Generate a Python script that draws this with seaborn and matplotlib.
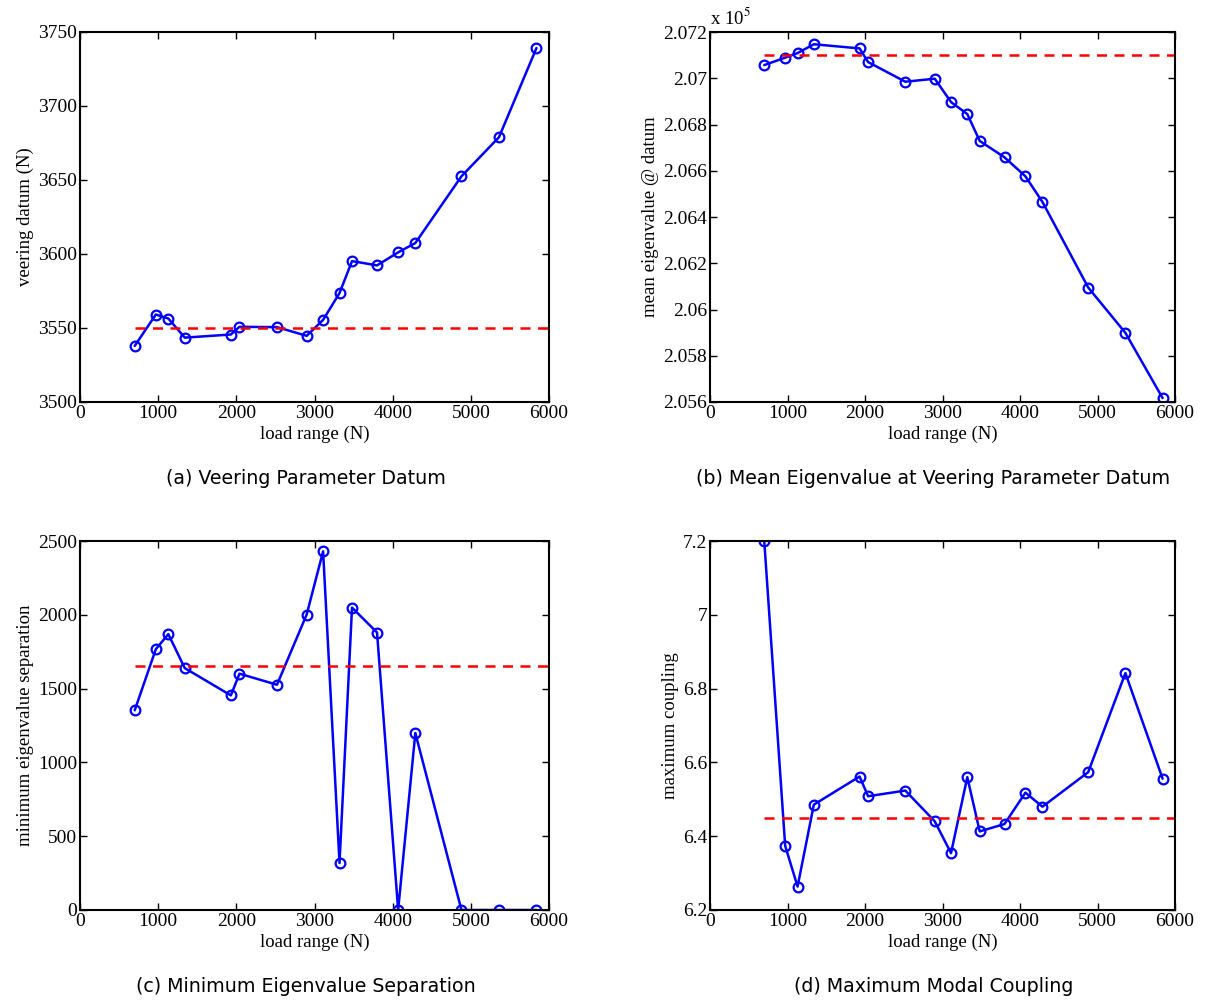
import numpy as np
import pandas as pd
import seaborn as sns
import matplotlib.pyplot as plt

# load range (N) - same for all four panels
load = [700, 970, 1130, 1340, 1930, 2040, 2520, 2900, 3110, 3320, 3480, 3800,
        4070, 4290, 4880, 5360, 5840]

veering_datum = [3537.9, 3559.1, 3556.4, 3543.5, 3545.6, 3550.8, 3550.6, 3544.7,
                 3555.5, 3573.6, 3595.2, 3592.3, 3601.1, 3607.4, 3652.5, 3678.9, 3739.2]
# mean eigenvalue in units of 1e5
mean_eig = [2.07057, 2.07089, 2.07109, 2.07147, 2.07129, 2.07070, 2.06985, 2.06998,
            2.06897, 2.06845, 2.06729, 2.06658, 2.06576, 2.06465, 2.06095, 2.05899, 2.05617]
min_sep = [1353, 1767, 1869, 1639, 1454, 1601, 1526, 2002, 2430, 318, 2049, 1880,
           0, 1199, 0, 0, 0]
max_coupling = [7.2, 6.374, 6.2635, 6.4856, 6.5617, 6.5083, 6.5237, 6.4403, 6.3541,
                6.56, 6.413, 6.433, 6.518, 6.480, 6.5735, 6.842, 6.556]

reference = [3550, 2.0710, 1650, 6.45]
ylims = [(3500, 3750), (2.056, 2.072), (0, 2500), (6.2, 7.2)]
yticks = [np.arange(3500, 3751, 50), np.arange(2.056, 2.0721, 0.002),
          np.arange(0, 2501, 500), np.arange(6.2, 7.21, 0.2)]
ylabels = ['veering datum (N)', 'mean eigenvalue @ datum',
           'minimum eigenvalue separation', 'maximum coupling']
captions = ['(a) Veering Parameter Datum', '(b) Mean Eigenvalue at Veering Parameter Datum',
            '(c) Minimum Eigenvalue Separation', '(d) Maximum Modal Coupling']
series = [veering_datum, mean_eig, min_sep, max_coupling]

sns.set_style('ticks')
plt.rcParams['font.family'] = ['Liberation Serif']
plt.rcParams['text.color'] = 'black'
plt.rcParams['axes.labelcolor'] = 'black'

fig = plt.figure(figsize=(12.1, 10.01), dpi=100)
W, H = 1210, 1001
# axes boxes in pixels: left, top, right, bottom
boxes = [(80, 32, 549, 402), (710, 32, 1175, 402),
         (80, 541, 549, 910), (710, 541, 1175, 910)]

for i in range(4):
    l, t, r, b = boxes[i]
    ax = fig.add_axes([l / W, 1 - b / H, (r - l) / W, (b - t) / H])
    df = pd.DataFrame({'load': load, 'val': series[i]})
    sns.lineplot(data=df, x='load', y='val', ax=ax, color='#0000ff', lw=1.8,
                 marker='o', markersize=7, markerfacecolor='none',
                 markeredgecolor='#0000ff', markeredgewidth=1.6)
    ref = pd.DataFrame({'load': [load[0], 6000], 'val': [reference[i]] * 2})
    sns.lineplot(data=ref, x='load', y='val', ax=ax, color='#ff0000', lw=1.8,
                 linestyle=(0, (4, 3)))
    ax.set_xlim(0, 6000)
    ax.set_ylim(*ylims[i])
    ax.set_xticks(range(0, 6001, 1000))
    ax.set_yticks(yticks[i])
    ax.set_yticklabels(['%g' % round(v, 3) for v in yticks[i]])
    if i == 1:
        ax.text(0.0, 1.01, r'x 10$^5$', transform=ax.transAxes, fontsize=13.5,
                ha='left', va='bottom', math_fontfamily='stix')
    ax.tick_params(direction='in', top=True, right=True, labelsize=14,
                   length=5, width=1, pad=2, colors='black')
    for s in ax.spines.values():
        s.set_linewidth(1.5)
        s.set_color('black')
    ax.set_xlabel('load range (N)', fontsize=13.5, labelpad=3)
    ax.set_ylabel(ylabels[i], fontsize=13.5, labelpad=3)
    fig.text(((l + r) / 2 - 9) / W, 1 - (b + 77) / H, captions[i], ha='center',
             va='center', fontsize=13.7, family=['DejaVu Sans'])

fig.savefig('out.png', dpi=100)
